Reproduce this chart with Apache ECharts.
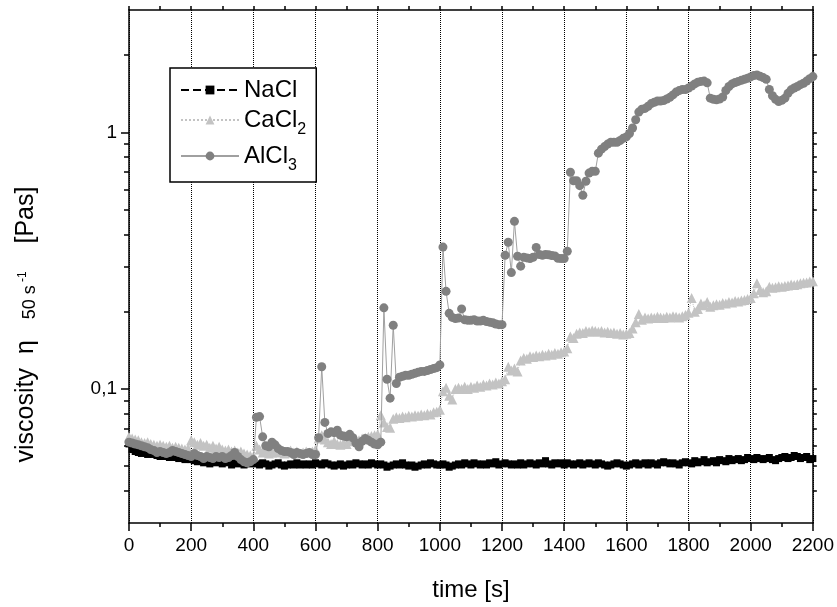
<!DOCTYPE html>
<html>
<head>
<meta charset="utf-8">
<script src="https://cdn.jsdelivr.net/npm/echarts@6/dist/echarts.min.js"></script>
<style>html,body{margin:0;padding:0;background:#fff}#c{width:837px;height:607px}</style>
</head>
<body>
<div id="c"></div>
<script>
// time [s]
const timeS = [
0,10,20,30,40,50,60,70,80,90,
100,110,120,130,140,150,160,170,180,190,
200,210,220,230,240,250,260,270,280,290,
300,310,320,330,340,350,360,370,380,390,
400,410,420,430,440,450,460,470,480,490,
500,510,520,530,540,550,560,570,580,590,
600,610,620,630,640,650,660,670,680,690,
700,710,720,730,740,750,760,770,780,790,
800,810,820,830,840,850,860,870,880,890,
900,910,920,930,940,950,960,970,980,990,
1000,1010,1020,1030,1040,1050,1060,1070,1080,1090,
1100,1110,1120,1130,1140,1150,1160,1170,1180,1190,
1200,1210,1220,1230,1240,1250,1260,1270,1280,1290,
1300,1310,1320,1330,1340,1350,1360,1370,1380,1390,
1400,1410,1420,1430,1440,1450,1460,1470,1480,1490,
1500,1510,1520,1530,1540,1550,1560,1570,1580,1590,
1600,1610,1620,1630,1640,1650,1660,1670,1680,1690,
1700,1710,1720,1730,1740,1750,1760,1770,1780,1790,
1800,1810,1820,1830,1840,1850,1860,1870,1880,1890,
1900,1910,1920,1930,1940,1950,1960,1970,1980,1990,
2000,2010,2020,2030,2040,2050,2060,2070,2080,2090,
2100,2110,2120,2130,2140,2150,2160,2170,2180,2190,
2200];

// viscosity [Pas]
const nacl = [
0.061,0.058,0.057,0.0565,0.056,0.0565,0.0555,0.056,0.0555,0.055,
0.0545,0.055,0.0545,0.054,0.0545,0.054,0.0535,0.054,0.053,0.0535,
0.053,0.0525,0.052,0.053,0.0515,0.052,0.051,0.0525,0.0515,0.052,
0.051,0.0515,0.052,0.0505,0.0515,0.051,0.052,0.0505,0.0515,0.051,
0.0515,0.051,0.0505,0.0515,0.051,0.05,0.0505,0.051,0.0515,0.0505,
0.05,0.0505,0.051,0.0505,0.0515,0.0505,0.051,0.0505,0.051,0.0505,
0.0515,0.051,0.0505,0.0515,0.051,0.0505,0.05,0.0505,0.051,0.05,
0.0505,0.051,0.0505,0.0515,0.051,0.0505,0.051,0.0505,0.0515,0.051,
0.0505,0.051,0.0505,0.0495,0.05,0.0505,0.051,0.0505,0.0515,0.0505,
0.05,0.0505,0.0495,0.05,0.0505,0.051,0.0505,0.0515,0.051,0.0505,
0.0505,0.051,0.0505,0.0495,0.05,0.0505,0.051,0.0505,0.0515,0.051,
0.0505,0.0515,0.051,0.0505,0.051,0.0505,0.0515,0.051,0.052,0.0505,
0.051,0.0515,0.051,0.0505,0.051,0.0505,0.0515,0.0505,0.051,0.0515,
0.051,0.0505,0.0515,0.051,0.0525,0.051,0.0505,0.0515,0.051,0.0515,
0.0505,0.0515,0.051,0.0505,0.051,0.0515,0.0505,0.051,0.0515,0.051,
0.0505,0.0515,0.051,0.0505,0.05,0.0505,0.051,0.0515,0.051,0.0505,
0.05,0.0505,0.051,0.0515,0.0505,0.051,0.0515,0.0505,0.0515,0.051,
0.0505,0.0515,0.052,0.0515,0.051,0.0515,0.051,0.0505,0.0515,0.052,
0.0515,0.051,0.0525,0.0515,0.052,0.053,0.0515,0.052,0.0525,0.0515,
0.053,0.0525,0.052,0.0535,0.0525,0.053,0.0535,0.0525,0.053,0.054,
0.0535,0.053,0.054,0.0535,0.053,0.0535,0.054,0.053,0.0525,0.0535,
0.054,0.0545,0.0535,0.054,0.055,0.0545,0.0535,0.054,0.0545,0.053,
0.0535];

const cacl2 = [
0.065,0.064,0.0635,0.063,0.062,0.0615,0.062,0.061,0.0605,0.06,
0.0605,0.06,0.0595,0.06,0.059,0.0595,0.059,0.0585,0.058,0.0585,
0.063,0.062,0.0605,0.0615,0.06,0.0605,0.059,0.06,0.0585,0.0595,
0.058,0.0575,0.058,0.057,0.0575,0.0565,0.057,0.056,0.0555,0.055,
0.0545,0.06,0.058,0.0565,0.057,0.056,0.0565,0.0575,0.0565,0.057,
0.056,0.0565,0.0575,0.0565,0.057,0.056,0.0565,0.057,0.0565,0.057,
0.058,0.064,0.066,0.0635,0.062,0.061,0.0625,0.061,0.0605,0.0615,
0.061,0.0625,0.063,0.0635,0.063,0.064,0.0645,0.065,0.0655,0.066,
0.0665,0.079,0.074,0.071,0.0705,0.0765,0.0775,0.077,0.078,0.0775,
0.0785,0.078,0.079,0.0785,0.0795,0.079,0.08,0.0795,0.081,0.0815,
0.083,0.098,0.101,0.094,0.091,0.1,0.101,0.1,0.102,0.1,
0.102,0.101,0.103,0.102,0.104,0.103,0.105,0.104,0.106,0.105,
0.107,0.109,0.122,0.118,0.12,0.117,0.129,0.132,0.131,0.134,
0.133,0.135,0.134,0.136,0.135,0.137,0.136,0.138,0.137,0.139,
0.14,0.144,0.16,0.158,0.164,0.166,0.165,0.168,0.167,0.169,
0.168,0.167,0.168,0.166,0.167,0.165,0.166,0.164,0.165,0.163,
0.164,0.165,0.172,0.182,0.196,0.186,0.19,0.188,0.19,0.189,
0.191,0.19,0.189,0.191,0.19,0.192,0.191,0.19,0.192,0.194,
0.198,0.226,0.2,0.205,0.215,0.212,0.218,0.209,0.212,0.214,
0.213,0.216,0.215,0.218,0.217,0.22,0.219,0.221,0.222,0.224,
0.226,0.236,0.258,0.243,0.238,0.24,0.25,0.248,0.249,0.251,
0.25,0.252,0.253,0.255,0.254,0.256,0.258,0.259,0.26,0.262,
0.263];

const alcl3 = [
0.062,0.0615,0.061,0.0605,0.06,0.0595,0.059,0.058,0.0575,0.0565,
0.057,0.0565,0.056,0.0565,0.0575,0.057,0.0565,0.056,0.0555,0.055,
0.0545,0.056,0.055,0.0545,0.0535,0.0545,0.054,0.0535,0.0545,0.054,
0.0545,0.0535,0.054,0.055,0.0565,0.0545,0.053,0.052,0.0515,0.052,
0.053,0.0775,0.078,0.065,0.06,0.0595,0.062,0.0605,0.0585,0.0575,
0.057,0.057,0.0565,0.0555,0.0565,0.056,0.0555,0.056,0.0565,0.0555,
0.0555,0.0645,0.122,0.074,0.067,0.068,0.0675,0.069,0.066,0.0655,
0.065,0.0665,0.0645,0.0615,0.0595,0.0625,0.064,0.063,0.062,0.061,
0.0605,0.062,0.207,0.109,0.092,0.177,0.105,0.111,0.112,0.113,
0.113,0.114,0.115,0.116,0.117,0.117,0.118,0.119,0.12,0.121,
0.124,0.357,0.24,0.197,0.19,0.188,0.189,0.205,0.186,0.185,
0.185,0.186,0.184,0.184,0.185,0.183,0.182,0.181,0.179,0.178,
0.178,0.332,0.373,0.284,0.45,0.329,0.301,0.326,0.324,0.322,
0.326,0.356,0.334,0.332,0.334,0.333,0.331,0.33,0.323,0.322,
0.322,0.344,0.699,0.648,0.648,0.62,0.569,0.645,0.694,0.705,
0.705,0.83,0.86,0.88,0.9,0.915,0.915,0.915,0.93,0.948,
0.96,0.99,1.04,1.12,1.2,1.232,1.24,1.265,1.295,1.31,
1.326,1.326,1.33,1.35,1.37,1.4,1.436,1.455,1.47,1.47,
1.49,1.515,1.545,1.57,1.58,1.585,1.56,1.36,1.345,1.34,
1.35,1.374,1.457,1.51,1.545,1.565,1.58,1.595,1.61,1.626,
1.645,1.665,1.675,1.655,1.635,1.61,1.47,1.39,1.345,1.32,
1.335,1.36,1.42,1.465,1.49,1.51,1.535,1.555,1.585,1.62,
1.65];

const seriesNames = ['NaCl', 'CaCl2', 'AlCl3'];
const yMajorTicks = [0.1, 1];
const yMinorTicks = [0.04,0.05,0.06,0.07,0.08,0.09,0.2,0.3,0.4,0.5,0.6,0.7,0.8,0.9,2];
const yAllTicks = [0.04,0.05,0.06,0.07,0.08,0.09,0.1,0.2,0.3,0.4,0.5,0.6,0.7,0.8,0.9,1,2];

const FONT = "'Liberation Sans', Arial, sans-serif";
const BLACK = '#000';

const chart = echarts.init(document.getElementById('c'), null, {renderer: 'canvas'});

function pairs(vals) { return timeS.map((t, i) => [t, vals[i]]); }

const option = {
  animation: false,
  backgroundColor: '#fff',
  grid: {left: 129, right: 22, top: 10, bottom: 80, containLabel: false},
  legend: {
    data: seriesNames,
    orient: 'vertical',
    left: 170, top: 68,
    padding: [10, 10, 8, 10],
    itemWidth: 58, itemHeight: 11, itemGap: 6,
    borderColor: BLACK, borderWidth: 1.5,
    backgroundColor: '#fff',
    formatter: function (name) {
      if (name === 'CaCl2') return '{m|CaCl}{s|2}';
      if (name === 'AlCl3') return '{m|AlCl}{s|3}';
      return '{m|' + name + '}';
    },
    textStyle: {
      color: BLACK, fontFamily: FONT, fontSize: 24,
      rich: {
        m: {fontSize: 24, lineHeight: 36, fontFamily: FONT, color: BLACK},
        s: {fontSize: 16, lineHeight: 16, verticalAlign: 'bottom', fontFamily: FONT, color: BLACK}
      }
    }
  },
  xAxis: [{
    type: 'value', min: 0, max: 2200, interval: 200, position: 'bottom',
    axisLine: {show: true, onZero: false, lineStyle: {color: BLACK, width: 1.5}},
    axisTick: {show: true, inside: false, length: 8, lineStyle: {color: BLACK, width: 1.5}},
    minorTick: {show: true, splitNumber: 2, length: 4, lineStyle: {color: BLACK, width: 1.5}},
    axisLabel: {color: BLACK, fontFamily: FONT, fontSize: 19, margin: 13, formatter: function (v) { return String(v); }},
    splitLine: {show: true, lineStyle: {color: BLACK, type: 'dotted', width: 1}},
    name: 'time [s]', nameLocation: 'middle', nameGap: 55,
    nameTextStyle: {color: BLACK, fontFamily: FONT, fontSize: 24}
  }, {
    type: 'value', min: 0, max: 2200, interval: 200, position: 'top',
    axisLine: {show: true, onZero: false, lineStyle: {color: BLACK, width: 1.5}},
    axisTick: {show: true, inside: false, length: 4, lineStyle: {color: BLACK, width: 1.5}},
    minorTick: {show: true, splitNumber: 2, length: 4, lineStyle: {color: BLACK, width: 1.5}},
    axisLabel: {show: false},
    splitLine: {show: false}
  }],
  yAxis: [{
    type: 'log', logBase: 10, min: 0.03, max: 3, position: 'left',
    axisLine: {show: true, onZero: false, lineStyle: {color: BLACK, width: 1.5}},
    axisTick: {show: true, inside: false, length: 8, customValues: yMajorTicks, lineStyle: {color: BLACK, width: 1.5}},
    axisLabel: {
      color: BLACK, fontFamily: FONT, fontSize: 19, margin: 12, customValues: yMajorTicks,
      formatter: function (v) { return Math.abs(v - 0.1) < 1e-6 ? '0,1' : (Math.abs(v - 1) < 1e-6 ? '1' : ''); }
    },
    splitLine: {show: false},
    name: '{a|viscosity  η   }{b|50 s}{c| -1}{a|    [Pas]}',
    nameLocation: 'middle', nameGap: 88, nameRotate: 90,
    nameTextStyle: {
      color: BLACK, fontFamily: FONT, fontSize: 25, padding: [0, 116, 0, 0],
      rich: {
        a: {fontSize: 25, lineHeight: 30, fontFamily: FONT, color: BLACK},
        b: {fontSize: 18, lineHeight: 18, verticalAlign: 'bottom', fontFamily: FONT, color: BLACK, padding: [0, 0, 2, 0]},
        c: {fontSize: 12, lineHeight: 12, verticalAlign: 'top', fontFamily: FONT, color: BLACK, padding: [6, 0, 0, 0]}
      }
    }
  }, {
    type: 'log', logBase: 10, min: 0.03, max: 3, position: 'left',
    axisLine: {show: false},
    axisTick: {show: true, inside: false, length: 5, customValues: yMinorTicks, lineStyle: {color: BLACK, width: 1.5}},
    axisLabel: {show: false},
    splitLine: {show: false}
  }, {
    type: 'log', logBase: 10, min: 0.03, max: 3, position: 'right',
    axisLine: {show: true, onZero: false, lineStyle: {color: BLACK, width: 1.5}},
    axisTick: {show: true, inside: false, length: 4, customValues: yAllTicks, lineStyle: {color: BLACK, width: 1.5}},
    axisLabel: {show: false},
    splitLine: {show: false}
  }],
  series: [{
    name: 'NaCl', type: 'line', xAxisIndex: 0, yAxisIndex: 0,
    data: pairs(nacl), showAllSymbol: true,
    symbol: 'rect', symbolSize: 7,
    itemStyle: {color: BLACK},
    lineStyle: {color: BLACK, width: 1, type: 'dashed'},
    emphasis: {disabled: true}, z: 2
  }, {
    name: 'CaCl2', type: 'line', xAxisIndex: 0, yAxisIndex: 0,
    data: pairs(cacl2), showAllSymbol: true,
    symbol: 'triangle', symbolSize: 10,
    itemStyle: {color: '#c3c3c3'},
    lineStyle: {color: '#c3c3c3', width: 1, type: 'dotted'},
    emphasis: {disabled: true}, z: 3
  }, {
    name: 'AlCl3', type: 'line', xAxisIndex: 0, yAxisIndex: 0,
    data: pairs(alcl3), showAllSymbol: true,
    symbol: 'circle', symbolSize: 9,
    itemStyle: {color: '#808080'},
    lineStyle: {color: '#a0a0a0', width: 1},
    emphasis: {disabled: true}, z: 4
  }]
};
chart.setOption(option);
</script>
</body>
</html>
